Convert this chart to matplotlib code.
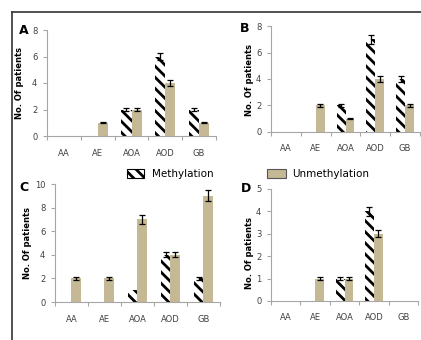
import matplotlib
import numpy as np
from matplotlib import pyplot as plt
from matplotlib.lines import Line2D
from matplotlib.patches import Patch

matplotlib.use("Agg")

categories = ["AA", "AE", "AOA", "AOD", "GB"]

# values
meth_a = [0, 0, 2, 6, 2]
unmeth_a = [0, 1, 2, 4, 1]
meth_b = [0, 0, 2, 7, 4]
unmeth_b = [0, 2, 1, 4, 2]
meth_c = [0, 0, 1, 4, 2]
unmeth_c = [2, 2, 7, 4, 9]
meth_d = [0, 0, 1, 4, 0]
unmeth_d = [0, 1, 1, 3, 0]

err_meth_a = [0, 0, 0.1, 0.3, 0.1]
err_unmeth_a = [0, 0.05, 0.1, 0.2, 0.05]
err_meth_b = [0, 0, 0.1, 0.35, 0.2]
err_unmeth_b = [0, 0.1, 0.05, 0.2, 0.1]
err_meth_c = [0, 0, 0, 0.2, 0.1]
err_unmeth_c = [0.1, 0.1, 0.35, 0.2, 0.45]
err_meth_d = [0, 0, 0.05, 0.2, 0]
err_unmeth_d = [0, 0.05, 0.05, 0.15, 0]

TAN = "#c5b995"
GREY = "#a6a6a6"
TXT = "#404040"

plt.rcParams["hatch.linewidth"] = 2.0
plt.rcParams["font.family"] = ["DejaVu Sans"]

fig = plt.figure(figsize=(4.21, 3.40), dpi=100)

# frame round the figure (clipped at right and bottom in the original)
fig.add_artist(Line2D([12 / 421, 1], [1 - 12 / 340] * 2, color="#333333", lw=1.2))
fig.add_artist(Line2D([12 / 421] * 2, [0, 1 - 12 / 340], color="#333333", lw=1.2))

panels = [
    ("A", meth_a, unmeth_a, err_meth_a, err_unmeth_a, 8, [0, 2, 4, 6, 8],
     [47, 216, 30, 136], (24, 30), (19, 83)),
    ("B", meth_b, unmeth_b, err_meth_b, err_unmeth_b, 8, [0, 2, 4, 6, 8],
     [271, 420, 26, 132], (245, 28), (249, 80)),
    ("C", meth_c, unmeth_c, err_meth_c, err_unmeth_c, 10, [0, 2, 4, 6, 8, 10],
     [55, 220, 184, 302], (24, 187), (27, 243)),
    ("D", meth_d, unmeth_d, err_meth_d, err_unmeth_d, 5, [0, 1, 2, 3, 4, 5],
     [271, 418, 189, 301], (246, 188), (249, 253)),
]

W, H = 421, 340
x = np.arange(len(categories))
bw = 0.3

for letter, meth, unmeth, em, eu, ymax, yt, box, lpos, ylpos in panels:
    x0, x1, ytop, ybot = box
    ax = fig.add_axes([x0 / W, 1 - ybot / H, (x1 - x0) / W, (ybot - ytop) / H])
    ax.bar(x - bw / 2, meth, bw, color="white", edgecolor="black",
           hatch="\\\\\\", linewidth=0)
    ax.bar(x + bw / 2, unmeth, bw, color=TAN, linewidth=0)
    for xs, vals, errs in [(x - bw / 2, meth, em), (x + bw / 2, unmeth, eu)]:
        for xi, v, e in zip(xs, vals, errs):
            if v > 0 and e > 0:
                ax.errorbar(xi, v, yerr=e, fmt="none", ecolor="black",
                            elinewidth=0.9, capsize=2.2, capthick=0.9)
    ax.set_xlim(-0.5, len(categories) - 0.5)
    ax.set_ylim(0, ymax)
    ax.set_yticks(yt)
    ax.set_xticks(x)
    ax.set_xticklabels(categories)
    ax.set_xticks(np.arange(-0.5, len(categories), 1), minor=True)
    ax.tick_params(axis="x", which="major", length=0, pad=9, labelsize=6,
                   labelcolor=TXT)
    ax.tick_params(axis="x", which="minor", length=3, color=GREY, width=0.8)
    ax.tick_params(axis="y", length=3, color=GREY, width=0.8, labelsize=6,
                   labelcolor=TXT, pad=4)
    for s in ["top", "right"]:
        ax.spines[s].set_visible(False)
    for s in ["left", "bottom"]:
        ax.spines[s].set_color(GREY)
        ax.spines[s].set_linewidth(0.8)
    ax.patch.set_alpha(0)
    fig.text(lpos[0] / W, 1 - lpos[1] / H, letter, fontsize=9, fontweight="bold",
             ha="center", va="center")
    fig.text(ylpos[0] / W, 1 - ylpos[1] / H, "No. Of patients", fontsize=6,
             fontweight="bold", rotation=90, ha="center", va="center")

handles = [
    Patch(facecolor="white", edgecolor="black", hatch="\\\\\\", linewidth=0.8),
    Patch(facecolor=TAN, edgecolor="#555555", linewidth=0.8),
]
fig.legend(handles[:1], ["Methylation"], loc="center left",
           bbox_to_anchor=(118 / W, 1 - 174 / H), frameon=False, fontsize=7.5,
           handlelength=1.6, handleheight=1.0, handletextpad=0.8)
fig.legend(handles[1:], ["Unmethylation"], loc="center left",
           bbox_to_anchor=(258 / W, 1 - 174 / H), frameon=False, fontsize=7.5,
           handlelength=1.8, handleheight=1.0, handletextpad=0.6)

fig.savefig("out.png", dpi=100)
